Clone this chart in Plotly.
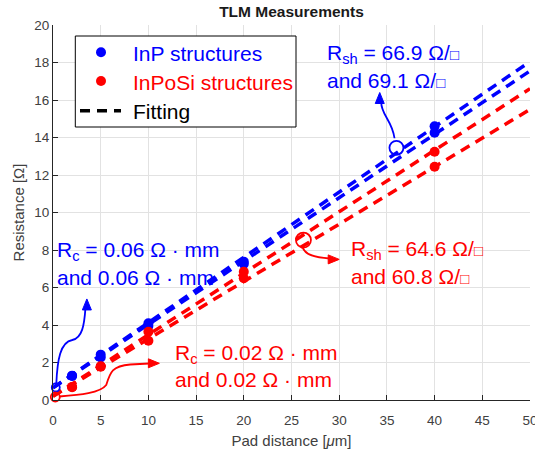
import plotly.graph_objects as go

# ---------------- data ----------------
pad_distance = [2, 5, 10, 20, 40]
inp_set1 = [1.28, 2.42, 4.09, 7.38, 14.60]
inp_set2 = [1.30, 2.27, 3.95, 7.25, 14.25]
inposi_set1 = [0.68, 1.78, 3.64, 6.84, 13.24]
inposi_set2 = [0.70, 1.80, 3.16, 6.49, 12.44]

fit_x = [0, 50]
inp_fit_a = [0.65, 18.05]
inp_fit_b = [0.65, 17.55]
inposi_fit_a = [0.20, 16.60]
inposi_fit_b = [0.20, 15.50]

x_ticks = [0, 5, 10, 15, 20, 25, 30, 35, 40, 45, 50]
y_ticks = [0, 2, 4, 6, 8, 10, 12, 14, 16, 18, 20]

legend_labels = ["InP structures", "InPoSi structures", "Fitting"]

BLUE = "#0000ff"
RED = "#ff0000"
FONT = "Liberation Sans, Arial, Helvetica, sans-serif"
SQ = "<span style='font-size:15px'>\u25a1</span>"

# plot area geometry (pixels) used only for decoration placement
L, R, T, B = 53, 530, 25, 400
W, H = R - L, B - T


def px(xp):
    return (xp - L) / W


def py(yp):
    return (B - yp) / H


fig = go.Figure()

dash = "10px,7px"
for ys, col in [(inp_fit_a, BLUE), (inp_fit_b, BLUE), (inposi_fit_a, RED), (inposi_fit_b, RED)]:
    fig.add_trace(go.Scatter(x=fit_x, y=ys, mode="lines", showlegend=False,
                             line=dict(color=col, width=3.5, dash=dash), hoverinfo="skip"))

fig.add_trace(go.Scatter(x=pad_distance + pad_distance, y=inp_set1 + inp_set2, mode="markers",
                         name=legend_labels[0], showlegend=False,
                         marker=dict(color=BLUE, size=10)))
fig.add_trace(go.Scatter(x=pad_distance + pad_distance, y=inposi_set1 + inposi_set2, mode="markers",
                         name=legend_labels[1], showlegend=False,
                         marker=dict(color=RED, size=10)))

# highlight circles (annotation decoration)
circles = [
    (0.29, 0.67, 8, BLUE),
    (0.24, 0.16, 9, RED),
    (36.0, 13.45, 14, BLUE),
    (26.25, 8.53, 15, RED),
]
for cx, cy, s, col in circles:
    fig.add_trace(go.Scatter(x=[cx], y=[cy], mode="markers", showlegend=False, cliponaxis=False,
                             hoverinfo="skip",
                             marker=dict(symbol="circle-open", size=s, color=col,
                                         line=dict(width=1.8, color=col))))

# curved connectors (data coordinates)
paths = [
    ("M 35.80,13.96 C 35.54,14.93 34.40,15.20 34.40,15.90", BLUE),
    ("M 0.346,0.853 C 0.45,2.133 0.765,3.093 2.02,3.2 C 3.07,3.307 3.28,4.0 3.40,4.9", BLUE),
    ("M 0.66,0.187 C 2.86,0.267 4.95,0.373 5.58,0.8 C 6.0,1.493 6.21,1.813 8.1,1.893 L 10.1,1.947", RED),
    ("M 26.17,8.133 C 26.43,7.733 27.48,7.6 29.0,7.547", RED),
]
shapes = []
for p, col in paths:
    shapes.append(dict(type="path", path=p, xref="x", yref="y", line=dict(color=col, width=1.8)))

# arrowheads as small filled triangles (data units; ~11 px long, ~9 px wide)
XU, YU = 50 / W, 20 / H  # data units per pixel


def head(tx, ty, direction, col):
    ln, hw = 11, 4.5
    if direction == "up":
        pts = [(tx, ty), (tx - hw * XU, ty - ln * YU), (tx + hw * XU, ty - ln * YU)]
    else:
        pts = [(tx, ty), (tx - ln * XU, ty + hw * YU), (tx - ln * XU, ty - hw * YU)]
    path = "M " + " L ".join(f"{a:.4f},{b:.4f}" for a, b in pts) + " Z"
    return dict(type="path", path=path, xref="x", yref="y", fillcolor=col,
                line=dict(color=col, width=1))


shapes += [head(34.25, 16.40, "up", BLUE), head(3.55, 5.39, "up", BLUE),
           head(11.15, 1.957, "right", RED), head(30.0, 7.50, "right", RED)]

# manual legend box
shapes.append(dict(type="rect", xref="paper", yref="paper", x0=px(75.3), x1=px(296), y0=py(127), y1=py(36),
                   line=dict(color="black", width=1), fillcolor="white", layer="above"))
for yy, col in [(52.3, BLUE), (81, RED)]:
    shapes.append(dict(type="circle", xref="paper", yref="paper", xsizemode="pixel", ysizemode="pixel",
                       xanchor=px(101), yanchor=py(yy), x0=-5, x1=5, y0=-5, y1=5,
                       fillcolor=col, line=dict(color=col, width=0), layer="above"))
shapes.append(dict(type="line", xref="paper", yref="paper", x0=px(80), x1=px(121), y0=py(110.7), y1=py(110.7),
                   line=dict(color="black", width=3.5, dash=dash), layer="above"))

annotations = []
for i, (yy, col) in enumerate([(52.3, BLUE), (81, RED), (110.7, "black")]):
    annotations.append(dict(x=px(131), y=py(yy + 1), xref="paper", yref="paper", text=legend_labels[i],
                            showarrow=False, xanchor="left", yanchor="middle",
                            font=dict(size=21, color=col, family=FONT)))

texts = [
    (28.5, 18.45, "R<sub>sh</sub> = 66.9 \u03a9/" + SQ, BLUE),
    (28.5, 17.05, "and 69.1 \u03a9/" + SQ, BLUE),
    (0.2, 7.96, "R<sub>c</sub> = 0.06 \u03a9 \u00b7 mm", BLUE),
    (0.2, 6.53, "and 0.06 \u03a9 \u00b7 mm", BLUE),
    (31.0, 8.0, "R<sub>sh</sub> = 64.6 \u03a9/" + SQ, RED),
    (31.0, 6.59, "and 60.8 \u03a9/" + SQ, RED),
    (12.55, 2.47, "R<sub>c</sub> = 0.02 \u03a9 \u00b7 mm", RED),
    (12.55, 1.07, "and 0.02 \u03a9 \u00b7 mm", RED),
]
for x, y, t, col in texts:
    annotations.append(dict(x=x, y=y, xref="x", yref="y", text=t, showarrow=False,
                            xanchor="left", yanchor="middle", font=dict(size=21, color=col, family=FONT)))

axis_common = dict(showgrid=True, gridcolor="#e2e2e2", gridwidth=1, zeroline=False, automargin=False,
                   showline=True, linecolor="#262626", linewidth=1, ticks="inside", ticklen=5,
                   tickcolor="#262626", tickfont=dict(size=13.5, color="#404040", family=FONT),
                   ticklabeloverflow="allow", mirror=False)

fig.update_layout(
    width=535, height=450,
    margin=dict(l=L, r=535 - R, t=T, b=450 - B, autoexpand=False),
    plot_bgcolor="white", paper_bgcolor="white",
    font=dict(family=FONT),
    showlegend=False,
    title=dict(text="<b>TLM Measurements</b>", x=0.5, xref="paper", y=1 - 12 / 450, yref="container",
               xanchor="center", yanchor="middle", font=dict(size=15.5, color="#1a1a1a", family=FONT)),
    xaxis=dict(range=[0, 50], tickvals=x_ticks, ticklabelstandoff=8,
               title=dict(text="Pad distance [<i>\u03bc</i>m]", standoff=8,
                          font=dict(size=15, color="#404040", family=FONT)), **axis_common),
    yaxis=dict(range=[0, 20], tickvals=y_ticks,
               title=dict(text="Resistance [\u03a9]", standoff=6,
                          font=dict(size=15, color="#404040", family=FONT)), **axis_common),
    shapes=shapes,
    annotations=annotations,
)

fig.write_html("out.html", config={"displayModeBar": False},
               post_script="document.body.style.margin='0';document.body.style.padding='0';")
